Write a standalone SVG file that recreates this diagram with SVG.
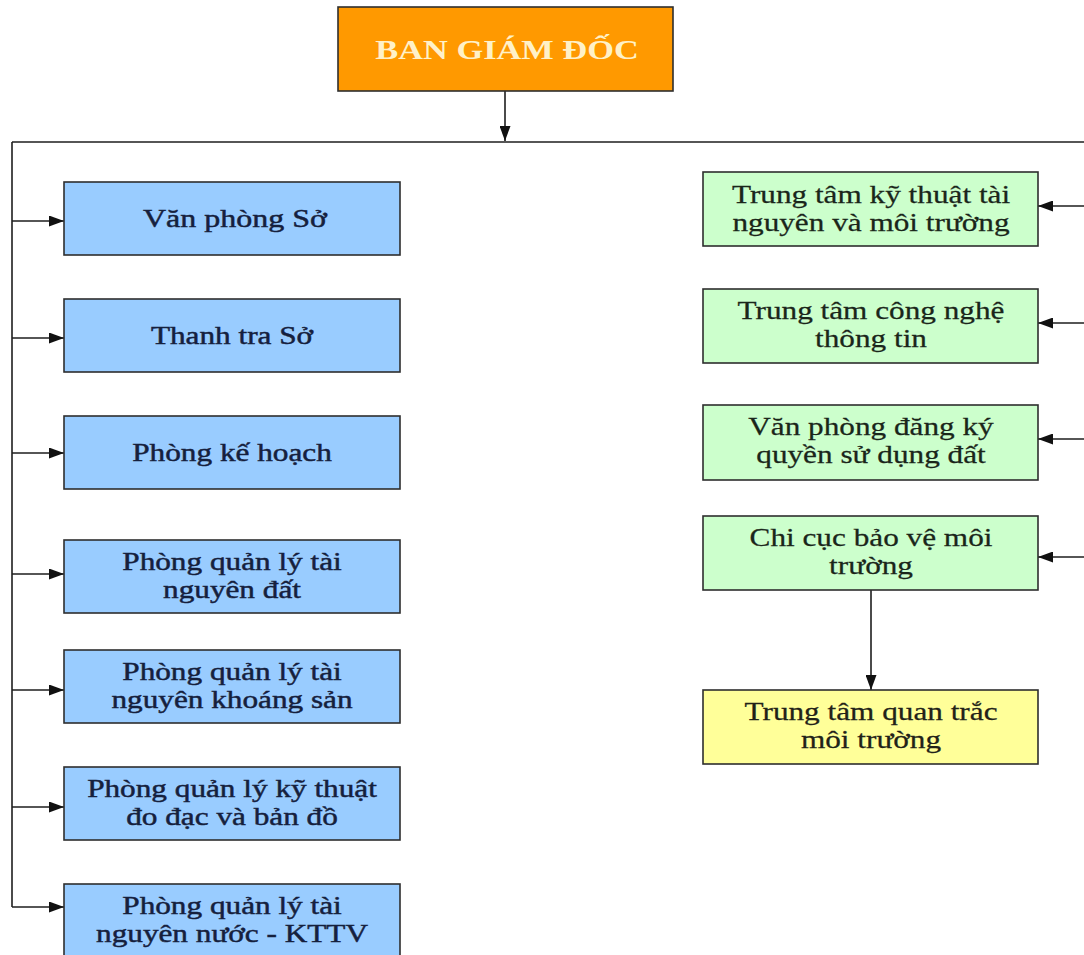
<svg xmlns="http://www.w3.org/2000/svg" width="1084" height="955" viewBox="0 0 1084 955">
  <style>
    .box { stroke: #2e2e2e; stroke-width: 1.6; }
    .blue { fill: #99ccff; }
    .green { fill: #ccffcc; }
    .yellow { fill: #ffff99; }
    .orange { fill: #ff9900; }
    .t { font-family: "Liberation Serif", "Times New Roman", serif; font-size: 25px; text-anchor: middle; }
    .tb { fill: #15203d; stroke: #15203d; stroke-width: 0.45; }
    .tg { fill: #1a261a; stroke: #1a261a; stroke-width: 0.25; }
    .ty { fill: #222218; stroke: #222218; stroke-width: 0.25; }
    .title { font-family: "Liberation Serif", "Times New Roman", serif; font-size: 27.5px; font-weight: bold; text-anchor: middle; fill: #fff1c8; }
    .ln { stroke: #1e1e1e; stroke-width: 1.6; fill: none; }
    .arr { marker-end: url(#ah); }
  </style>
  <defs>
    <marker id="ah" viewBox="0 0 15 11" refX="15" refY="5.5" markerWidth="15" markerHeight="11" markerUnits="userSpaceOnUse" orient="auto">
      <path d="M0,0 L15,5.5 L0,11 z" fill="#111"/>
    </marker>
  </defs>
  <rect width="1084" height="955" fill="#ffffff"/>

  <g id="connectors">
    <line class="ln arr" x1="505" y1="91" x2="505" y2="141"/>
    <line class="ln" x1="12" y1="142" x2="1084" y2="142"/>
    <line class="ln" x1="12" y1="142" x2="12" y2="907"/>
    <line class="ln arr" x1="12" y1="221" x2="64" y2="221"/>
    <line class="ln arr" x1="12" y1="338" x2="64" y2="338"/>
    <line class="ln arr" x1="12" y1="453" x2="64" y2="453"/>
    <line class="ln arr" x1="12" y1="574" x2="64" y2="574"/>
    <line class="ln arr" x1="12" y1="690" x2="64" y2="690"/>
    <line class="ln arr" x1="12" y1="807" x2="64" y2="807"/>
    <line class="ln arr" x1="12" y1="907" x2="64" y2="907"/>
    <line class="ln arr" x1="1086" y1="206" x2="1038" y2="206"/>
    <line class="ln arr" x1="1086" y1="323" x2="1038" y2="323"/>
    <line class="ln arr" x1="1086" y1="439" x2="1038" y2="439"/>
    <line class="ln arr" x1="1086" y1="557" x2="1038" y2="557"/>
    <line class="ln arr" x1="871" y1="590" x2="871" y2="690"/>
  </g>

  <g id="ban-giam-doc">
    <rect class="box orange" x="338" y="7" width="335" height="84"/>
    <text class="title" transform="translate(507,59) scale(1.25,1)">BAN GIÁM ĐỐC</text>
  </g>

  <g id="van-phong-so">
    <rect class="box blue" x="64" y="182" width="336" height="73"/>
    <text class="t tb" transform="translate(235,227) scale(1.28,1)">Văn phòng Sở</text>
  </g>
  <g id="thanh-tra-so">
    <rect class="box blue" x="64" y="299" width="336" height="73"/>
    <text class="t tb" transform="translate(232,344) scale(1.25,1)">Thanh tra Sở</text>
  </g>
  <g id="phong-ke-hoach">
    <rect class="box blue" x="64" y="416" width="336" height="73"/>
    <text class="t tb" transform="translate(232,461) scale(1.25,1)">Phòng kế hoạch</text>
  </g>
  <g id="phong-dat">
    <rect class="box blue" x="64" y="540" width="336" height="73"/>
    <text class="t tb" transform="translate(232,570) scale(1.25,1)"><tspan x="0" y="0">Phòng quản lý tài</tspan><tspan x="0" y="28">nguyên đất</tspan></text>
  </g>
  <g id="phong-khoang-san">
    <rect class="box blue" x="64" y="650" width="336" height="73"/>
    <text class="t tb" transform="translate(232,680) scale(1.25,1)"><tspan x="0" y="0">Phòng quản lý tài</tspan><tspan x="0" y="28">nguyên khoáng sản</tspan></text>
  </g>
  <g id="phong-do-dac">
    <rect class="box blue" x="64" y="767" width="336" height="73"/>
    <text class="t tb" transform="translate(232,797) scale(1.25,1)"><tspan x="0" y="0">Phòng quản lý kỹ thuật</tspan><tspan x="0" y="28">đo đạc và bản đồ</tspan></text>
  </g>
  <g id="phong-nuoc">
    <rect class="box blue" x="64" y="884" width="336" height="80"/>
    <text class="t tb" transform="translate(232,914) scale(1.25,1)"><tspan x="0" y="0">Phòng quản lý tài</tspan><tspan x="0" y="28">nguyên nước - KTTV</tspan></text>
  </g>

  <g id="tt-ky-thuat">
    <rect class="box green" x="703" y="172" width="335" height="74"/>
    <text class="t tg" transform="translate(871,203) scale(1.25,1)"><tspan x="0" y="0">Trung tâm kỹ thuật tài</tspan><tspan x="0" y="28">nguyên và môi trường</tspan></text>
  </g>
  <g id="tt-cntt">
    <rect class="box green" x="703" y="289" width="335" height="74"/>
    <text class="t tg" transform="translate(871,319) scale(1.25,1)"><tspan x="0" y="0">Trung tâm công nghệ</tspan><tspan x="0" y="28">thông tin</tspan></text>
  </g>
  <g id="vp-dang-ky">
    <rect class="box green" x="703" y="405" width="335" height="75"/>
    <text class="t tg" transform="translate(871,435) scale(1.25,1)"><tspan x="0" y="0">Văn phòng đăng ký</tspan><tspan x="0" y="28">quyền sử dụng đất</tspan></text>
  </g>
  <g id="chi-cuc">
    <rect class="box green" x="703" y="516" width="335" height="74"/>
    <text class="t tg" transform="translate(871,546) scale(1.25,1)"><tspan x="0" y="0">Chi cục bảo vệ môi</tspan><tspan x="0" y="28">trường</tspan></text>
  </g>
  <g id="tt-quan-trac">
    <rect class="box yellow" x="703" y="690" width="335" height="74"/>
    <text class="t ty" transform="translate(871,720) scale(1.25,1)"><tspan x="0" y="0">Trung tâm quan trắc</tspan><tspan x="0" y="28">môi trường</tspan></text>
  </g>
</svg>
